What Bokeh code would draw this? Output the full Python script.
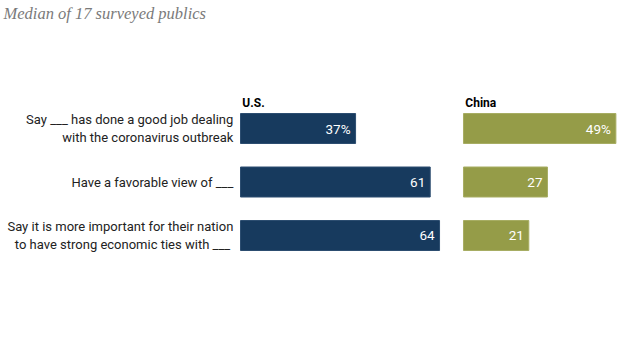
from bokeh.plotting import figure
from bokeh.models import Range1d, Label, ColumnDataSource
from bokeh.core.properties import value
from bokeh.embed import file_html
from bokeh.resources import INLINE

# ---- data ----
questions = [
    "Say ___ has done a good job dealing\nwith the coronavirus outbreak",
    "Have a favorable view of ___",
    "Say it is more important for their nation\nto have strong  economic ties with ___",
]
us_values = [37, 61, 64]
china_values = [49, 27, 21]
us_labels = ["37%", "61", "64"]
china_labels = ["49%", "27", "21"]
series_names = ["U.S.", "China"]
title_text = "Median of 17 surveyed publics"

# ---- layout constants ----
W, H = 624, 345
PX_PER_UNIT = 3.11          # horizontal pixels per percentage point
US_START_PX = 240           # where U.S. bars start (figure px)
CHINA_OFFSET = 71.7         # offset of China panel in value units
ROW_PX = 53.5
ROW0_PX = 128

x_start = -US_START_PX / PX_PER_UNIT
x_end = x_start + W / PX_PER_UNIT
y_top = -ROW0_PX / ROW_PX
y_bottom = (H - ROW0_PX) / ROW_PX

NAVY = "#173a5e"
OLIVE = "#959c48"
FONT = "Roboto"

p = figure(width=W, height=H, output_backend="svg", toolbar_location=None,
           x_range=Range1d(x_start, x_end), y_range=Range1d(y_bottom, y_top),
           min_border=0, outline_line_color=None)
p.xaxis.visible = False
p.yaxis.visible = False
p.grid.visible = False
p.background_fill_color = "white"
p.border_fill_color = "white"

rows = list(range(len(questions)))
src = ColumnDataSource(dict(
    y=rows,
    us=us_values,
    cn_left=[CHINA_OFFSET] * len(rows),
    cn_right=[CHINA_OFFSET + v for v in china_values],
    us_lab_x=[v - 1.6 for v in us_values],
    cn_lab_x=[CHINA_OFFSET + v - 1.6 for v in china_values],
    us_lab=us_labels,
    cn_lab=china_labels,
    q=questions,
    q_x=[-2.3] * len(rows),
))

bar_h = 30 / ROW_PX
p.hbar(y="y", left=0, right="us", height=bar_h, source=src,
       fill_color=NAVY, line_color="#2c4d70", line_width=1)
p.hbar(y="y", left="cn_left", right="cn_right", height=bar_h, source=src,
       fill_color=OLIVE, line_color="#a7ad63", line_width=1)

p.text(x="us_lab_x", y="y", text="us_lab", source=src, text_align="right",
       text_baseline="middle", text_color="white", text_font=value(FONT),
       text_font_size="13.5px")
p.text(x="cn_lab_x", y="y", text="cn_lab", source=src, text_align="right",
       text_baseline="middle", text_color="white", text_font=value(FONT),
       text_font_size="13.5px")

p.text(x="q_x", y="y", text="q", source=src, text_align="right",
       text_baseline="middle", text_color="#222222", text_font=value(FONT),
       text_font_size="13px", text_line_height=1.25)

hdr_y = -26 / ROW_PX
p.text(x=[0.6, CHINA_OFFSET + 0.6], y=[hdr_y, hdr_y], text=series_names,
       text_align="left", text_baseline="middle", text_color="#000000",
       text_font=value(FONT), text_font_size="12px", text_font_style="bold")

p.add_layout(Label(x=3, y=H - 3, x_units="screen", y_units="screen",
                   text=title_text, text_baseline="top", text_align="left",
                   text_font="Liberation Serif", text_font_style="italic",
                   text_font_size="16.5px", text_color="#7a7a7a"))

open("out.html", "w").write(file_html(p, INLINE))
